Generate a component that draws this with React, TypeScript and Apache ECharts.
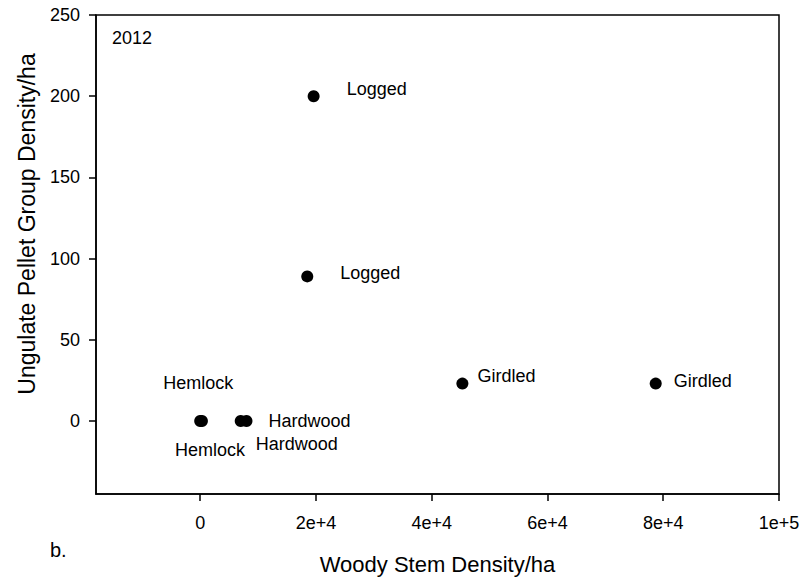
import React, { useEffect, useRef } from "react";
import * as echarts from "echarts";

const xTicks = [0, 20000, 40000, 60000, 80000, 100000];
const xTickLabels = ["0", "2e+4", "4e+4", "6e+4", "8e+4", "1e+5"];
const yTicks = [0, 50, 100, 150, 200, 250];

const stemDensity = [0, 300, 7000, 8000, 18500, 19600, 45300, 78700];
const pelletDensity = [0, 0, 0, 0, 89, 200, 23, 23];
const siteLabels = ["Hemlock", "Hemlock", "Hardwood", "Hardwood", "Logged", "Logged", "Girdled", "Girdled"];
// label placement relative to each point (style only)
const labelOffsets: [number, number][] = [
  [-2, -38], [8, 29], [15, 23], [22, 0], [33, -3], [33, -7], [15, -8], [18, -3],
];
const labelAlign = ["center", "center", "left", "left", "left", "left", "left", "left"];

const FONT = "'Liberation Sans', Arial, Helvetica, sans-serif";

export default function App() {
  const ref = useRef<HTMLDivElement>(null);
  useEffect(() => {
    document.body.style.margin = "0";
    if (!ref.current) return;
    const chart = echarts.init(ref.current, null, { renderer: "svg" });
    const data = stemDensity.map((x, i) => ({
      value: [x, pelletDensity[i]],
      label: {
        show: true,
        formatter: siteLabels[i],
        position: "inside",
        align: labelAlign[i],
        verticalAlign: "middle",
        offset: labelOffsets[i],
        color: "#000",
        fontSize: 18,
        fontFamily: FONT,
      },
    }));
    chart.setOption({
      animation: false,
      backgroundColor: "#fff",
      textStyle: { fontFamily: FONT },
      grid: {
        left: 96,
        right: 24,
        top: 15,
        bottom: 87,
        show: true,
        borderColor: "#000",
        borderWidth: 1.5,
      },
      xAxis: {
        type: "value",
        min: -18000,
        max: 100000,
        splitLine: { show: false },
        axisLine: { show: true, onZero: false, lineStyle: { color: "#000", width: 1.5 } },
        axisTick: {
          show: true,
          length: 7,
          customValues: xTicks,
          lineStyle: { color: "#000", width: 1.5 },
        },
        axisLabel: {
          customValues: xTicks,
          margin: 20,
          color: "#000",
          fontSize: 18,
          fontFamily: FONT,
          formatter: (v: number) => {
            const i = xTicks.indexOf(v);
            return i >= 0 ? xTickLabels[i] : "";
          },
        },
        name: "Woody Stem Density/ha",
        nameLocation: "middle",
        nameGap: 59,
        nameTextStyle: { color: "#000", fontSize: 22, fontFamily: FONT },
      },
      yAxis: {
        type: "value",
        min: -45,
        max: 250,
        splitLine: { show: false },
        axisLine: { show: true, onZero: false, lineStyle: { color: "#000", width: 1.5 } },
        axisTick: {
          show: true,
          length: 7,
          customValues: yTicks,
          lineStyle: { color: "#000", width: 1.5 },
        },
        axisLabel: {
          customValues: yTicks,
          margin: 16,
          color: "#000",
          fontSize: 18,
          fontFamily: FONT,
        },
      },
      graphic: [
        {
          type: "text",
          x: 27,
          y: 224,
          rotation: Math.PI / 2,
          style: {
            text: "Ungulate Pellet Group Density/ha",
            fontSize: 23,
            fontFamily: FONT,
            fill: "#000",
            align: "center",
            verticalAlign: "middle",
          },
        },
        {
          type: "text",
          x: 112,
          y: 38,
          style: {
            text: "2012",
            fontSize: 18,
            fontFamily: FONT,
            fill: "#000",
            align: "left",
            verticalAlign: "middle",
          },
        },
        {
          type: "text",
          x: 50,
          y: 550,
          style: {
            text: "b.",
            fontSize: 20,
            fontFamily: FONT,
            fill: "#000",
            align: "left",
            verticalAlign: "middle",
          },
        },
      ],
      series: [
        {
          type: "scatter",
          symbol: "circle",
          symbolSize: 12,
          itemStyle: { color: "#000", opacity: 1 },
          data,
        },
      ],
    });
    return () => chart.dispose();
  }, []);
  return <div ref={ref} style={{ width: 803, height: 581 }} />;
}
